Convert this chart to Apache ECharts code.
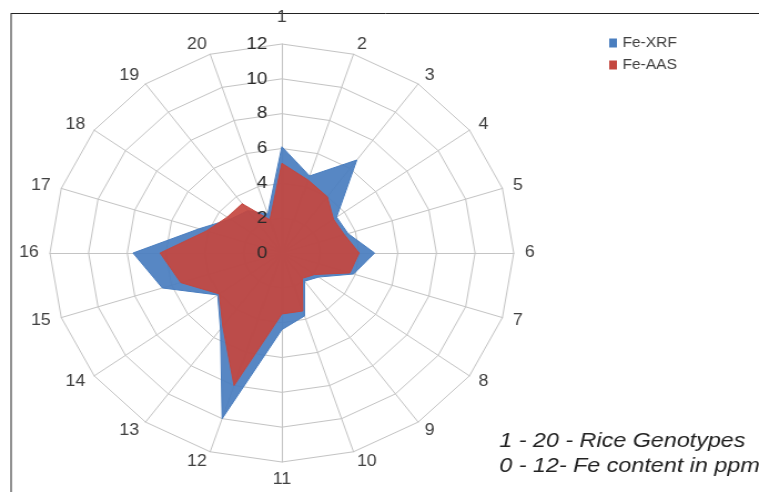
<!DOCTYPE html>
<html><head><meta charset="utf-8">
<script src="https://cdn.jsdelivr.net/npm/echarts@6/dist/echarts.min.js"></script>
<style>
html,body{margin:0;padding:0;background:#fff;overflow:hidden}
#wrap{width:759px;height:492px;overflow:hidden;position:relative;background:#fff}
#c{width:684px;height:492px;transform:scaleX(1.1096);transform-origin:0 0}
</style></head><body><div id="wrap"><div id="c"></div></div>
<script>
const categories = ['1','2','3','4','5','6','7','8','9','10','11','12','13','14','15','16','17','18','19','20'];
const feXRF = [6.1, 4.65, 6.6, 3.5, 3.6, 4.8, 3.9, 2.35, 2.0, 3.8, 4.4, 10.0, 5.4, 4.1, 6.5, 7.7, 4.5, 3.3, 3.0, 2.35];
const feAAS = [5.15, 4.4, 4.0, 3.3, 3.4, 4.0, 3.7, 2.1, 1.8, 3.5, 3.5, 8.0, 5.2, 4.0, 5.5, 6.3, 4.1, 3.5, 3.5, 2.0];
const tickLabels = ['0','2','4','6','8','10','12'];
const seriesNames = ['Fe-XRF','Fe-AAS'];
const noteLines = ['1 - 20 - Rice Genotypes', '0 - 12- Fe content in ppm'];

// ECharts lays radar indicators counter-clockwise; reorder so they run clockwise like the reference
const order = [0];
for (let i = categories.length - 1; i >= 1; i--) order.push(i);
const reorder = arr => order.map(i => arr[i]);

const baseIndicator = reorder(categories).map(name => ({ name: name, min: 0, max: 12 }));
const labelIndicator = baseIndicator.map((o, k) => {
  const c = { name: o.name, min: 0, max: 12 };
  if (k === 0) c.axisLabel = { show: true };
  return c;
});

const radarCommon = {
  center: [254, 253],
  radius: 209,
  startAngle: 90,
  shape: 'polygon',
  splitNumber: 6,
  axisTick: { show: false },
  splitArea: { show: false }
};

const chart = echarts.init(document.getElementById('c'), null, { renderer: 'canvas' });
chart.setOption({
  animation: false,
  backgroundColor: '#fff',
  legend: {
    data: seriesNames,
    orient: 'vertical',
    left: 544, top: 31,
    icon: 'rect', itemWidth: 7, itemHeight: 9, itemGap: 8,
    textStyle: { fontFamily: 'Liberation Sans', fontSize: 14, color: '#404040' }
  },
  radar: [
    Object.assign({}, radarCommon, {
      z: 1,
      indicator: baseIndicator,
      nameGap: 10,
      axisName: {
        color: '#404040', fontFamily: 'Liberation Sans', fontSize: 16,
        formatter: n => n === categories[0] ? '{t|' + n + '}' : n,
        rich: { t: { fontFamily: 'Liberation Sans', fontSize: 16, color: '#404040', padding: [0, 0, 8, 0] } }
      },
      axisLine: { lineStyle: { color: '#c4c4c4', width: 1 } },
      splitLine: { lineStyle: { color: '#c4c4c4', width: 1 } },
      axisLabel: { show: false }
    }),
    Object.assign({}, radarCommon, {
      z: 10,
      indicator: labelIndicator,
      axisName: { show: false },
      axisLine: { show: false },
      splitLine: { show: false },
      axisLabel: {
        show: false, color: '#2a2a2a', fontFamily: 'Liberation Sans', fontSize: 17, margin: 13,
        formatter: (v, i) => tickLabels[i]
      }
    })
  ],
  series: [{
    type: 'radar',
    radarIndex: 0,
    z: 2,
    symbol: 'none',
    silent: true,
    data: [
      { name: seriesNames[0], value: reorder(feXRF),
        itemStyle: { color: '#4a7ebf' },
        lineStyle: { color: '#4a7ebf', width: 1 },
        areaStyle: { color: '#4a7ebf', opacity: 0.93 } },
      { name: seriesNames[1], value: reorder(feAAS),
        itemStyle: { color: '#c4473f' },
        lineStyle: { color: '#c4473f', width: 1 },
        areaStyle: { color: '#c4473f', opacity: 0.92 } }
    ]
  }],
  graphic: [
    { type: 'line', shape: { x1: 10, y1: 13.5, x2: 700, y2: 13.5 }, style: { stroke: '#222', lineWidth: 1 } },
    { type: 'line', shape: { x1: 10, y1: 13, x2: 10, y2: 492 }, style: { stroke: '#222', lineWidth: 1 } },
    { type: 'text', left: 450, top: 431, style: { text: noteLines[0], fontFamily: 'Liberation Sans', fontStyle: 'italic', fontSize: 21, fill: '#222' } },
    { type: 'text', left: 450, top: 456, style: { text: noteLines[1], fontFamily: 'Liberation Sans', fontStyle: 'italic', fontSize: 21, fill: '#222' } }
  ]
});
</script></body></html>
